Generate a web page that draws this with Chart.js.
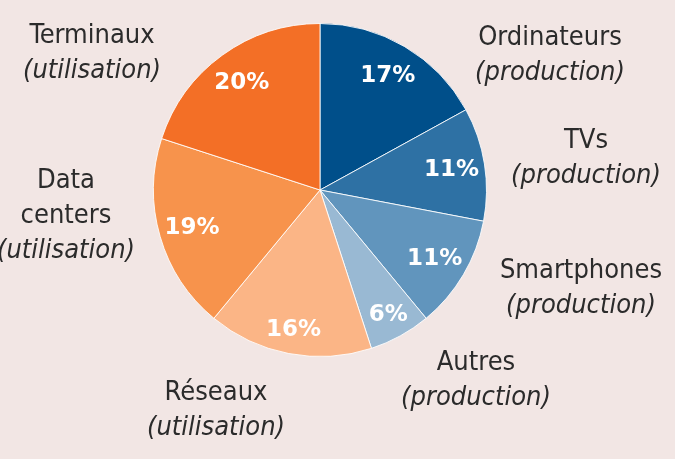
<!DOCTYPE html>
<html>
<head>
<meta charset="utf-8">
<script src="https://cdn.jsdelivr.net/npm/chart.js@4"></script>
<style>
  html, body { margin: 0; padding: 0; background: #f2e6e4; }
  canvas { display: block; }
</style>
</head>
<body>
<canvas id="chart" width="675" height="459"></canvas>
<script>
// data
const categories = ['Ordinateurs', 'TVs', 'Smartphones', 'Autres', 'Réseaux', 'Data centers', 'Terminaux'];
const subLabels = ['(production)', '(production)', '(production)', '(production)', '(utilisation)', '(utilisation)', '(utilisation)'];
const shares = [17, 11, 11, 6, 16, 19, 20];
const colors = ['#004f8a', '#2e71a4', '#6195bd', '#99b9d3', '#fbb586', '#f7934c', '#f36f26'];

// outside label blocks: centre x, first baseline y, lines
const labelLayout = [
  { x: 550, y: 45, lines: ['Ordinateurs'] },
  { x: 586, y: 148, lines: ['TVs'] },
  { x: 581, y: 278, lines: ['Smartphones'] },
  { x: 476, y: 370, lines: ['Autres'] },
  { x: 216, y: 400, lines: ['Réseaux'] },
  { x: 66, y: 188, lines: ['Data', 'centers'] },
  { x: 92, y: 43, lines: ['Terminaux'] }
];
const pctRadius = [0.8, 0.8, 0.8, 0.85, 0.85, 0.8, 0.8];

const labelFont = '"DejaVu Sans Condensed", "DejaVu Sans", sans-serif';

const pieLabels = {
  id: 'pieLabels',
  afterDatasetsDraw(chart) {
    const ctx = chart.ctx;
    const meta = chart.getDatasetMeta(0);
    ctx.save();
    // percentages inside the slices
    ctx.fillStyle = '#ffffff';
    ctx.textAlign = 'center';
    ctx.textBaseline = 'middle';
    ctx.font = 'bold 23px "DejaVu Sans", sans-serif';
    meta.data.forEach((arc, i) => {
      const p = arc.getProps(['x', 'y', 'startAngle', 'endAngle', 'outerRadius'], true);
      const mid = (p.startAngle + p.endAngle) / 2;
      const r = p.outerRadius * pctRadius[i];
      ctx.fillText(shares[i] + '%', p.x + Math.cos(mid) * r, p.y + Math.sin(mid) * r + 1);
    });
    // category names around the pie
    ctx.fillStyle = '#2b2b2b';
    ctx.textBaseline = 'alphabetic';
    labelLayout.forEach((lab, i) => {
      let y = lab.y;
      ctx.font = '27px ' + labelFont;
      lab.lines.forEach(line => {
        ctx.fillText(line, lab.x, y);
        y += 35;
      });
      ctx.font = 'italic 27px ' + labelFont;
      ctx.fillText(subLabels[i], lab.x, y);
    });
    ctx.restore();
  }
};

new Chart(document.getElementById('chart'), {
  type: 'pie',
  data: {
    labels: categories,
    datasets: [{
      data: shares,
      backgroundColor: colors,
      borderColor: 'rgba(255,255,255,0.85)',
      borderWidth: 1
    }]
  },
  options: {
    responsive: false,
    animation: false,
    layout: { padding: { left: 153, right: 188, top: 23, bottom: 102 } },
    plugins: {
      legend: { display: false },
      tooltip: { enabled: false }
    }
  },
  plugins: [pieLabels]
});
</script>
</body>
</html>
